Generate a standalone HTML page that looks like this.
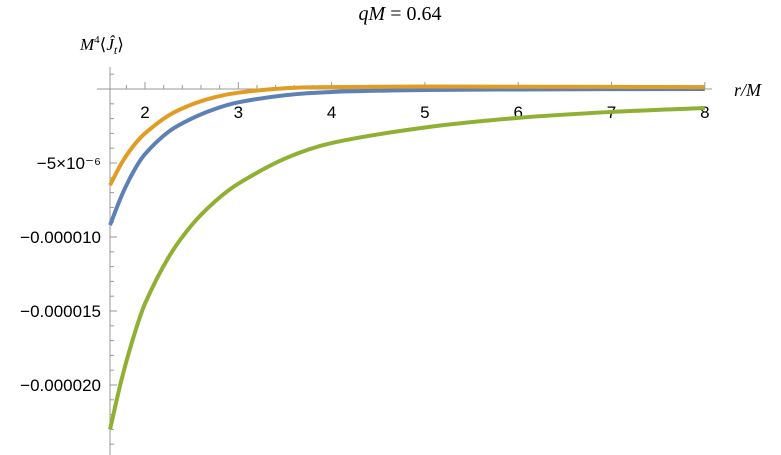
<!DOCTYPE html>
<html><head><meta charset="utf-8"><style>
body{margin:0;background:#fff;}
svg{display:block;font-family:"Liberation Sans",sans-serif;}
</style></head><body>
<svg id="chart" width="781" height="455" viewBox="0 0 781 455">
<text x="400" y="20" text-anchor="middle" font-family="Liberation Serif,serif" font-size="20"><tspan font-style="italic">qM</tspan> = 0.64</text>
<text x="80" y="50" font-family="Liberation Serif,serif" font-size="17"><tspan font-style="italic">M</tspan><tspan font-size="11" dy="-7">4</tspan><tspan dy="7">⟨</tspan><tspan font-style="italic">Ĵ</tspan><tspan font-style="italic" font-size="12" dy="4">t</tspan><tspan dy="-4">⟩</tspan></text>
<text x="734" y="96" font-family="Liberation Serif,serif" font-style="italic" font-size="18">r/M</text>
<g id="axes"></g>
<g id="series"></g>
</svg>
<script>
const xTicks=[2,3,4,5,6,7,8];
const yTickVals=[-5e-6,-10e-6,-15e-6,-20e-6];
const yTickLabels=["−5×10⁻⁶","−0.000010","−0.000015","−0.000020"];
const rVals=[1.625,1.75,1.875,2,2.25,2.5,2.75,3,3.5,4,5,6,7,8];
const orangeVals=[-6.5,-5.0,-3.85,-3.0,-1.8,-1.05,-0.55,-0.25,0.05,0.13,0.17,0.15,0.14,0.13];
const blueVals=[-9.2,-7.2,-5.6,-4.4,-2.9,-2.0,-1.35,-0.9,-0.42,-0.2,-0.07,-0.03,-0.01,0.0];
const greenVals=[-23.0,-19.6,-16.8,-14.5,-11.4,-9.2,-7.6,-6.4,-4.7,-3.65,-2.6,-1.95,-1.55,-1.28];
const seriesColors=["#5e81b5","#e19c24","#8fb032"];
const NS="http://www.w3.org/2000/svg";
function X(r){return 145+(r-2)*93.3;}
function Y(v){return 89-v*14.8e6;}
function mk(tag,attrs,parent){const e=document.createElementNS(NS,tag);for(const k in attrs)e.setAttribute(k,attrs[k]);parent.appendChild(e);return e;}
const ax=document.getElementById('axes');
let l=mk('line',{x1:97,y1:89,x2:712,y2:89,stroke:'#999','stroke-width':1},ax);


l=mk('line',{x1:110,y1:67,x2:110,y2:455,stroke:'#999','stroke-width':1},ax);


for(let r=1.8;r<=8.01;r+=0.2){const maj=Math.abs(r-Math.round(r))<0.01;
 const t=mk('line',{x1:X(r),x2:X(r),y1:89,y2:89-(maj?7:4),stroke:'#999'},ax);
 
 }
xTicks.forEach(r=>{const t=mk('text',{x:X(r),y:118,'text-anchor':'middle','font-size':17},ax);t.textContent=r;
 
 });
for(let k=1;k>=-24;k--){const v=k*1e-6;const maj=k%5===0;
 const t=mk('line',{x1:110,x2:110+(maj?7:4),y1:Y(v),y2:Y(v),stroke:'#999'},ax);
 
 }
yTickVals.forEach((v,i)=>{const t=mk('text',{x:101,y:Y(v)+6,'text-anchor':'end','font-size':17},ax);t.textContent=yTickLabels[i];
 
 });
function path(vals){const p=rVals.map((r,i)=>[X(r),Y(vals[i]*1e-6)]);
 let d=`M${p[0][0]},${p[0][1]}`;
 for(let i=0;i<p.length-1;i++){const p0=p[Math.max(0,i-1)],p1=p[i],p2=p[i+1],p3=p[Math.min(p.length-1,i+2)];
  const h=p2[0]-p1[0];
  const m1=(p2[1]-p0[1])/(p2[0]-p0[0]||1), m2=(p3[1]-p1[1])/(p3[0]-p1[0]||1);
  d+=` C${p1[0]+h/3},${p1[1]+m1*h/3} ${p2[0]-h/3},${p2[1]-m2*h/3} ${p2[0]},${p2[1]}`;}
 return d;}
const sg=document.getElementById('series');
[[greenVals,2,'green-series'],[blueVals,0,'blue-series'],[orangeVals,1,'orange-series']].forEach(([vals,c,n])=>{
 const e=mk('path',{d:path(vals),fill:'none',stroke:seriesColors[c],'stroke-width':4},sg);
 
 });
</script>
</body></html>
